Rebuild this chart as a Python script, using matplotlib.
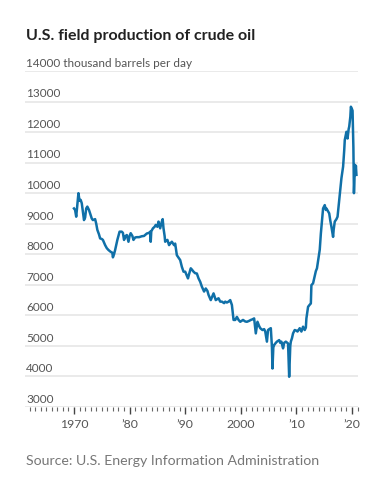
import matplotlib
matplotlib.use('Agg')
import matplotlib.pyplot as plt
from matplotlib.ticker import MultipleLocator, FixedLocator

# U.S. field production of crude oil, thousand barrels per day
years = [1970.0, 1970.2, 1970.4, 1970.6, 1970.8, 1971.0, 1971.2, 1971.4, 1971.6, 1971.8,
         1972.0, 1972.2, 1972.4, 1972.7, 1972.9, 1973.2, 1973.4, 1973.8, 1974.0, 1974.2,
         1974.5, 1974.7, 1975.0, 1975.2, 1975.6, 1975.9, 1976.2, 1976.6, 1976.9, 1977.0,
         1977.2, 1977.4, 1977.6, 1977.8, 1978.0, 1978.2, 1978.6, 1978.8, 1979.0, 1979.3,
         1979.5, 1979.8, 1980.0, 1980.2, 1980.5, 1980.7, 1981.0, 1981.3, 1981.7, 1982.2,
         1982.6, 1983.1, 1983.5, 1983.7, 1983.8, 1983.9, 1984.2, 1984.5, 1984.7, 1985.0,
         1985.2, 1985.5, 1985.8, 1985.95, 1986.1, 1986.3, 1986.4, 1986.6, 1986.8, 1987.1,
         1987.3, 1987.6, 1988.0, 1988.2, 1988.5, 1988.9, 1989.1, 1989.4, 1989.7, 1990.0,
         1990.3, 1990.5, 1990.7, 1991.0, 1991.2, 1991.5, 1991.8, 1992.1, 1992.4, 1992.7,
         1993.0, 1993.4, 1993.7, 1994.0, 1994.2, 1994.6, 1995.1, 1995.5, 1996.0, 1996.3,
         1996.6, 1997.0, 1997.2, 1997.5, 1997.8, 1998.1, 1998.4, 1998.7, 1999.0, 1999.3,
         1999.6, 1999.9, 2000.4, 2000.8, 2001.1, 2001.5, 2001.8, 2002.1, 2002.4, 2002.7,
         2003.0, 2003.3, 2003.5, 2003.9, 2004.2, 2004.4, 2004.7, 2004.9, 2005.2, 2005.4,
         2005.6, 2005.7, 2005.85, 2006.0, 2006.3, 2006.5, 2006.9, 2007.1, 2007.3, 2007.6,
         2007.8, 2008.1, 2008.5, 2008.7, 2008.9, 2009.0, 2009.2, 2009.4, 2009.7, 2010.0,
         2010.2, 2010.6, 2010.9, 2011.2, 2011.5, 2011.7, 2011.8, 2012.1, 2012.4, 2012.6,
         2012.7, 2013.0, 2013.2, 2013.5, 2013.7, 2014.0, 2014.2, 2014.4, 2014.6, 2014.8,
         2015.1, 2015.3, 2015.4, 2015.7, 2015.9, 2016.1, 2016.3, 2016.6, 2016.7, 2016.9,
         2017.2, 2017.4, 2017.7, 2018.0, 2018.1, 2018.4, 2018.6, 2018.7, 2019.0, 2019.2,
         2019.4, 2019.5, 2019.7, 2019.8, 2020.0, 2020.1, 2020.25, 2020.35, 2020.45, 2020.5,
         2020.6, 2020.7, 2020.8]
production = [9500, 9450, 9230, 9600, 10000, 9750, 9780, 9670, 9390, 9120,
              9200, 9500, 9560, 9450, 9340, 9170, 9120, 9150, 9000, 8800,
              8650, 8520, 8500, 8470, 8300, 8200, 8140, 8080, 8050, 7900,
              8000, 8140, 8300, 8470, 8600, 8740, 8740, 8700, 8470, 8600,
              8630, 8410, 8600, 8690, 8600, 8470, 8550, 8560, 8560, 8590,
              8600, 8680, 8700, 8740, 8410, 8750, 8850, 8900, 8960, 8900,
              9070, 8850, 9070, 9150, 8850, 8600, 8410, 8450, 8470, 8300,
              8350, 8410, 8300, 8350, 7970, 7860, 7810, 7590, 7430, 7430,
              7300, 7210, 7350, 7540, 7500, 7430, 7380, 7370, 7210, 7100,
              6940, 6780, 6880, 6800, 6670, 6500, 6720, 6500, 6560, 6450,
              6450, 6400, 6450, 6420, 6450, 6500, 6340, 5850, 5850, 5950,
              5850, 5790, 5850, 5800, 5790, 5820, 5850, 5870, 5900, 5410,
              5790, 5650, 5580, 5520, 5550, 5470, 5140, 5520, 5560, 5580,
              4970, 4260, 4950, 5030, 5100, 5140, 5190, 5100, 5140, 4920,
              5100, 5140, 5080, 3990, 5000, 5140, 5250, 5410, 5520, 5500,
              5470, 5580, 5470, 5630, 5520, 5600, 5900, 6280, 6350, 6390,
              6990, 7050, 7210, 7450, 7540, 7900, 8150, 8680, 9100, 9500,
              9610, 9450, 9500, 9400, 9340, 9100, 8900, 8570, 8800, 9070,
              9150, 9230, 9780, 10300, 10490, 10870, 11400, 11740, 12010, 11790,
              12100, 12180, 12500, 12830, 12750, 12700, 11500, 10000, 10500, 10930,
              10600, 10900, 10600]

yticks = [3000, 4000, 5000, 6000, 7000, 8000, 9000, 10000, 11000, 12000, 13000, 14000]
xticks = [1970, 1980, 1990, 2000, 2010, 2020]
xlabels = ['1970', '’80', '’90', '2000', '’10', '’20']

plt.rcParams['font.family'] = ['Lato', 'DejaVu Sans']

fig = plt.figure(figsize=(3.8, 4.93), dpi=100)
ax = fig.add_axes([25 / 380, 1 - 407 / 493, 333 / 380, 336 / 493])

ax.plot(years, production, color='#1070a8', lw=1.8, solid_joinstyle='round', zorder=3)

ax.set_xlim(1961.19, 2021.08)
ax.set_ylim(3000, 14000)

for v in yticks:
    ax.axhline(v, color='#e6e6e6', lw=1.2, zorder=1)
    lab = str(v)
    if v == 14000:
        lab = '14000 thousand barrels per day'
    ax.text(0.003, v + 70, lab, transform=ax.get_yaxis_transform(),
            ha='left', va='bottom', fontsize=8.5, color='#555555')

ax.set_yticks([])
for s in ['top', 'right', 'left', 'bottom']:
    ax.spines[s].set_visible(False)

ax.xaxis.set_major_locator(FixedLocator(xticks))
ax.xaxis.set_minor_locator(MultipleLocator(1))
ax.set_xticklabels(xlabels)
ax.tick_params(axis='x', which='major', length=5, width=1, color='#444444',
               labelsize=8.8, labelcolor='#555555', pad=4)
ax.tick_params(axis='x', which='minor', length=3, width=0.8, color='#666666')

fig.text(26 / 380, 1 - 36 / 493, 'U.S. field production of crude oil', fontsize=11.5,
         fontweight='bold', color='#222222', ha='left', va='center')
fig.text(26 / 380, 1 - 461 / 493, 'Source: U.S. Energy Information Administration',
         fontsize=10.2, color='#777777', ha='left', va='center')

fig.savefig('out.png', dpi=100)
